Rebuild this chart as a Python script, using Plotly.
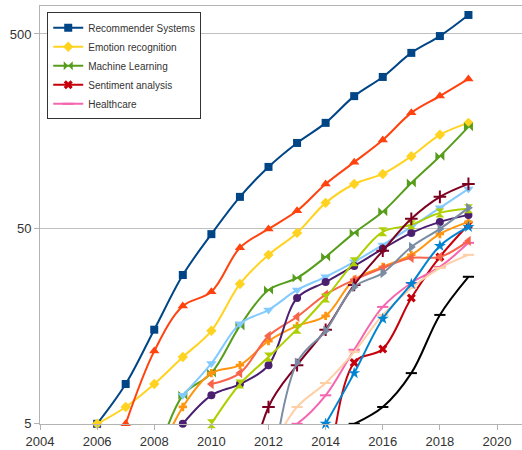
import math
import plotly.graph_objects as go

# Legend series
recommender_x = list(range(2006, 2020))
recommender_y = [5.0, 8.0, 15.2, 29, 47, 73, 104, 138, 175, 240, 301, 400, 488, 626]

emotion_x = list(range(2006, 2020))
emotion_y = [5.0, 6.1, 8.0, 11.0, 15.0, 26.1, 36.8, 47.7, 68, 85, 95.7, 118, 152, 175]

ml_x = list(range(2008, 2020))
ml_y = [3.0, 7.0, 9.1, 15.9, 24.3, 28.0, 35.9, 47.7, 61.2, 86, 118, 167]

sentiment_x = list(range(2014, 2020))
sentiment_y = [1.8, 10.3, 12.1, 22.1, 35.9, 52.5]

healthcare_x = list(range(2012, 2020))
healthcare_y = [4.2, 5.0, 7.0, 12.0, 19.9, 26.4, 31.9, 42.4]

# Unlabelled series
orangered_x = list(range(2007, 2020))
orangered_y = [5.0, 11.8, 20.1, 23.8, 40, 50, 61.9, 85, 110, 143, 197, 240, 294]

lightblue_x = list(range(2009, 2020))
lightblue_y = [7.0, 10.2, 16.3, 19.2, 24.3, 28.4, 33.9, 41.4, 51.2, 64.1, 80.2]

orange_x = list(range(2008, 2020))
orange_y = [3.0, 6.1, 9.1, 10.0, 13.3, 15.9, 17.9, 27.4, 31.9, 36.8, 47.1, 54.3]

salmon_x = list(range(2010, 2020))
salmon_y = [8.0, 9.1, 14.1, 17.7, 23.0, 27.4, 31.5, 35.5, 35.9, 43.4]

purple_x = list(range(2009, 2020))
purple_y = [5.0, 7.0, 8.0, 10.0, 22.1, 26.7, 32.3, 39.5, 47.7, 54.3, 59.0]

yellowgreen_x = list(range(2010, 2020))
yellowgreen_y = [5.0, 8.0, 11.0, 15.3, 22.1, 33.9, 48.3, 52.5, 60.4, 63.4]

maroon_x = list(range(2011, 2020))
maroon_y = [1.6, 6.1, 10.0, 15.2, 25.8, 38.6, 56.3, 73.0, 85.1]

gray_x = list(range(2012, 2020))
gray_y = [2.0, 10.3, 15.0, 25.2, 29.7, 40.4, 50.0, 64.1]

peach_x = list(range(2012, 2020))
peach_y = [3.5, 6.1, 8.1, 11.7, 18.1, 24.9, 31.5, 36.8]

blue_x = list(range(2014, 2020))
blue_y = [5.0, 9.1, 17.3, 26.1, 40.9, 51.2]

black_x = list(range(2015, 2020))
black_y = [5.0, 6.1, 9.1, 18.1, 28.4]

x_ticks = [2004, 2006, 2008, 2010, 2012, 2014, 2016, 2018, 2020]
y_ticks = [5, 50, 500]

series = [
    # name, x, y, color, symbol, size, showlegend, rank
    ("Recommender Systems", recommender_x, recommender_y, "#004586", "square", 8, True, 1),
    ("Emotion recognition", emotion_x, emotion_y, "#ffd320", "diamond", 8, True, 2),
    ("Machine Learning", ml_x, ml_y, "#579d1c", "bowtie", 9, True, 3),
    ("Sentiment analysis", sentiment_x, sentiment_y, "#c5000b", "x", 8, True, 4),
    ("Healthcare", healthcare_x, healthcare_y, "#f565b0", "line-ew-open", 8, True, 5),
    ("s6", orangered_x, orangered_y, "#ff420e", "triangle-up", 9, False, 6),
    ("s7", lightblue_x, lightblue_y, "#83caff", "triangle-down", 9, False, 7),
    ("s8", orange_x, orange_y, "#ff950e", "cross", 7, False, 8),
    ("s9", salmon_x, salmon_y, "#f8644a", "triangle-left", 9, False, 9),
    ("s10", purple_x, purple_y, "#4b1f6f", "circle", 8, False, 10),
    ("s11", yellowgreen_x, yellowgreen_y, "#aecf00", "hourglass", 9, False, 11),
    ("s12", maroon_x, maroon_y, "#7e0021", "cross-thin-open", 9, False, 12),
    ("s13", gray_x, gray_y, "#7a8ca3", "triangle-right", 9, False, 13),
    ("s14", peach_x, peach_y, "#ffcfa5", "line-ew-open", 8, False, 14),
    ("s15", blue_x, blue_y, "#0084d1", "star", 9, False, 15),
    ("s16", black_x, black_y, "#000000", "line-ew-open", 8, False, 16),
]

fig = go.Figure()
for name, xs, ys, color, symbol, size, showleg, rank in series:
    fig.add_trace(go.Scatter(
        x=xs, y=ys, name=name, mode="lines+markers",
        line=dict(color=color, width=2, shape="spline", smoothing=1),
        marker=dict(symbol=symbol, size=size, color=color,
                    line=dict(color=color, width=2 if "open" in symbol else 0)),
        showlegend=showleg, legendrank=rank, cliponaxis=False,
    ))

axis_font = dict(family="Liberation Sans, Arial, sans-serif", size=13, color="#333333")

fig.update_layout(
    width=522, height=450,
    margin=dict(l=40, r=0, t=6, b=26),
    paper_bgcolor="white", plot_bgcolor="white",
    font=dict(family="Liberation Sans, Arial, sans-serif", color="#333333"),
    legend=dict(
        x=0.015, y=0.985, xanchor="left", yanchor="top",
        bordercolor="#333333", borderwidth=1, bgcolor="white",
        font=dict(size=10, color="#333333"),
        tracegroupgap=0, entrywidth=184, entrywidthmode="pixels",
    ),
    xaxis=dict(
        range=[2004, 2020.875], tickvals=x_ticks, ticktext=[str(v) for v in x_ticks],
        showgrid=False, zeroline=False, showline=True, linecolor="#b3b3b3",
        linewidth=1, mirror=True, ticks="outside", ticklen=5, tickcolor="#b3b3b3",
        tickfont=axis_font,
    ),
    yaxis=dict(
        type="log", range=[math.log10(5) - 0.001, 2.8426],
        tickvals=y_ticks, ticktext=[str(v) for v in y_ticks],
        showgrid=True, gridcolor="#c0c0c0", gridwidth=1, zeroline=False,
        showline=True, linecolor="#b3b3b3", linewidth=1,
        ticks="outside", ticklen=5, tickcolor="#b3b3b3",
        tickfont=axis_font,
    ),
)

fig.write_html(
    "out.html",
    config={"displayModeBar": False},
    post_script="document.body.style.margin='0';document.body.style.padding='0';",
)
